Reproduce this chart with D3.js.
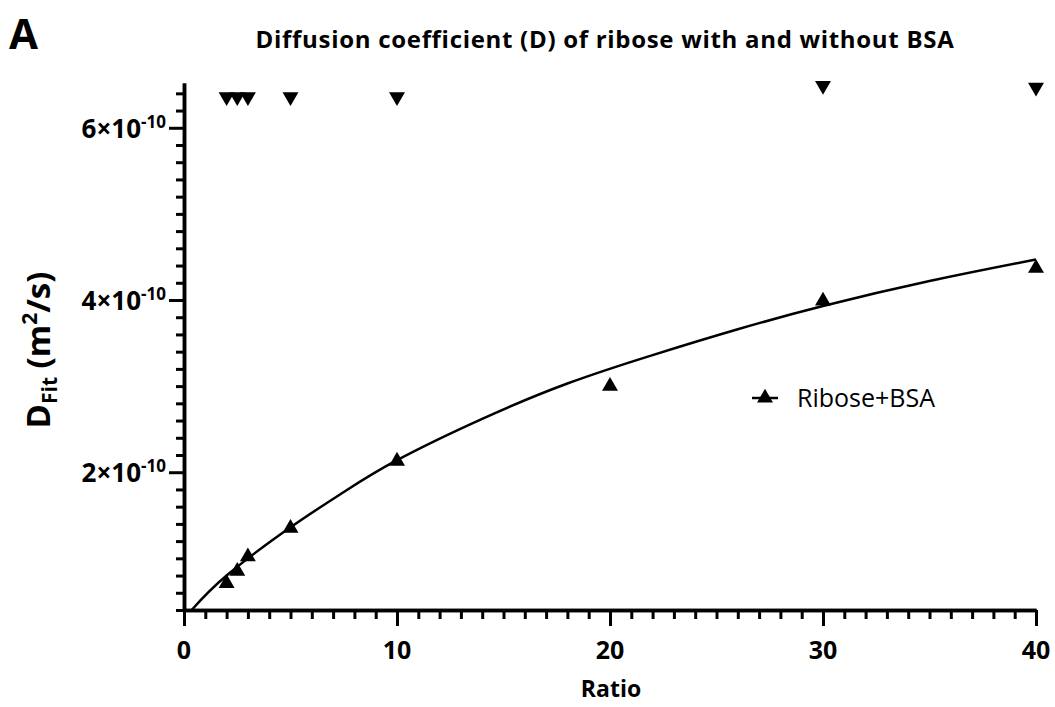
<!DOCTYPE html>
<html>
<head>
<meta charset="utf-8">
<script src="https://cdn.jsdelivr.net/npm/d3@7"></script>
<style>
body { margin: 0; background: #fff; }
text { font-family: "Open Sans", Lato, sans-serif; fill: #000; }
</style>
</head>
<body>
<script>
const canvWidth = 1055, canvHeight = 707;
const margin = {top: 83, right: 19, bottom: 97, left: 184};
const width = canvWidth - margin.left - margin.right;
const height = canvHeight - margin.top - margin.bottom;

// Ribose + BSA (up triangles)
const bsaRatios = [2, 2.5, 3, 5, 10, 20, 30, 40];
const bsaValues = [0.71e-10, 0.85e-10, 1.02e-10, 1.35e-10, 2.13e-10, 3.00e-10, 3.99e-10, 4.37e-10];

// Ribose without BSA (down triangles)
const noBsaRatios = [2, 2.5, 3, 5, 10, 30, 40];
const noBsaValues = [6.36e-10, 6.36e-10, 6.36e-10, 6.36e-10, 6.36e-10, 6.49e-10, 6.47e-10];

// fitted curve
const fitRatios = [0.36, 2, 5, 7.5, 10, 14, 18, 22, 26, 30, 35, 40];
const fitValues = [0.40e-10, 0.80e-10, 1.36e-10, 1.77e-10, 2.14e-10, 2.62e-10, 3.03e-10, 3.36e-10, 3.66e-10, 3.93e-10, 4.22e-10, 4.47e-10];

const xTicks = [0, 10, 20, 30, 40];
const yTicks = [2e-10, 4e-10, 6e-10];
const yTickMantissa = ["2×10", "4×10", "6×10"];
const yTickExponent = "-10";

const svg = d3.select("body").append("svg")
    .attr("width", canvWidth)
    .attr("height", canvHeight);

const chart = svg.append("g")
    .attr("transform", `translate(${margin.left},${margin.top})`);

const xScale = d3.scaleLinear().domain([0, 40]).range([0, width]);
const yScale = d3.scaleLinear().domain([0.4e-10, 6.52e-10]).range([height, 0]);

const xMinor = d3.range(0, 41, 1).filter(d => d % 10 !== 0);
const yMinor = d3.range(4, 65, 2).map(d => d * 1e-11).filter(d => !yTicks.some(t => Math.abs(t - d) < 1e-12));

function styleAxis(g) {
    g.select(".domain").attr("stroke", "#000").attr("stroke-width", 3.5);
    g.selectAll(".tick line").attr("stroke", "#000").attr("stroke-width", 3);
    g.selectAll(".tick text").remove();
}

// y axis
chart.append("g")
    .call(d3.axisLeft(yScale).tickValues(yMinor).tickSize(8).tickSizeOuter(0).tickFormat(""))
    .call(styleAxis);
chart.append("g")
    .call(d3.axisLeft(yScale).tickValues(yTicks).tickSize(15).tickSizeOuter(0).tickFormat(""))
    .call(styleAxis);

// x axis
chart.append("g")
    .attr("transform", `translate(0,${height})`)
    .call(d3.axisBottom(xScale).tickValues(xMinor).tickSize(9).tickSizeOuter(0).tickFormat(""))
    .call(styleAxis);
chart.append("g")
    .attr("transform", `translate(0,${height})`)
    .call(d3.axisBottom(xScale).tickValues(xTicks).tickSize(16).tickSizeOuter(0).tickFormat(""))
    .call(styleAxis);

// tick labels
chart.append("g").selectAll("text")
    .data(xTicks)
    .enter().append("text")
    .attr("x", d => xScale(d))
    .attr("y", height + 49)
    .attr("text-anchor", "middle")
    .attr("font-size", "25px")
    .attr("font-weight", "bold")
    .text(d => d);

const yLabels = chart.append("g").selectAll("text")
    .data(yTicks)
    .enter().append("text")
    .attr("x", -18)
    .attr("y", d => yScale(d) + 10)
    .attr("text-anchor", "end")
    .attr("font-size", "26px")
    .attr("font-weight", "bold");
yLabels.append("tspan").text((d, i) => yTickMantissa[i]);
yLabels.append("tspan").attr("font-size", "17px").attr("dy", -10).text(yTickExponent);

// fit line
const line = d3.line()
    .x((d, i) => xScale(fitRatios[i]))
    .y(d => yScale(d))
    .curve(d3.curveNatural);

chart.append("path")
    .datum(fitValues)
    .attr("fill", "none")
    .attr("stroke", "#000")
    .attr("stroke-width", 2.5)
    .attr("d", line);

const tri = d3.symbol().type(d3.symbolTriangle).size(110);

chart.append("g").selectAll("path")
    .data(bsaValues)
    .enter().append("path")
    .attr("d", tri)
    .attr("transform", (d, i) => `translate(${xScale(bsaRatios[i])},${yScale(d)})`)
    .attr("fill", "#000");

chart.append("g").selectAll("path")
    .data(noBsaValues)
    .enter().append("path")
    .attr("d", tri)
    .attr("transform", (d, i) => `translate(${xScale(noBsaRatios[i])},${yScale(d)}) rotate(180)`)
    .attr("fill", "#000");

// legend
const legend = chart.append("g").attr("transform", `translate(${752 - margin.left},${398 - margin.top})`);
legend.append("line")
    .attr("x1", 0).attr("x2", 26).attr("y1", 0).attr("y2", 0)
    .attr("stroke", "#000").attr("stroke-width", 2.5);
legend.append("path")
    .attr("d", tri)
    .attr("transform", "translate(13,0)")
    .attr("fill", "#000");
legend.append("text")
    .attr("x", 45)
    .attr("y", 9)
    .attr("font-size", "25px")
    .text("Ribose+BSA");

// titles
svg.append("text")
    .attr("x", 9)
    .attr("y", 49)
    .attr("font-size", "42px")
    .attr("font-weight", "bold")
    .text("A");

svg.append("text")
    .attr("x", 605)
    .attr("y", 48)
    .attr("text-anchor", "middle")
    .attr("font-size", "24px")
    .attr("letter-spacing", "0.7px")
    .attr("font-weight", "bold")
    .text("Diffusion coefficient (D) of ribose with and without BSA");

svg.append("text")
    .attr("x", 611)
    .attr("y", 697)
    .attr("text-anchor", "middle")
    .attr("font-size", "23px")
    .attr("font-weight", "bold")
    .text("Ratio");

const yTitle = svg.append("text")
    .attr("transform", "translate(50,350) rotate(-90)")
    .attr("text-anchor", "middle")
    .attr("font-size", "33px")
    .attr("font-weight", "bold");
yTitle.append("tspan").text("D");
yTitle.append("tspan").attr("font-size", "21px").attr("dy", 7).text("Fit");
yTitle.append("tspan").attr("dy", -7).text(" (m");
yTitle.append("tspan").attr("font-size", "21px").attr("dy", -13).text("2");
yTitle.append("tspan").attr("dy", 13).text("/s)");
</script>
</body>
</html>
